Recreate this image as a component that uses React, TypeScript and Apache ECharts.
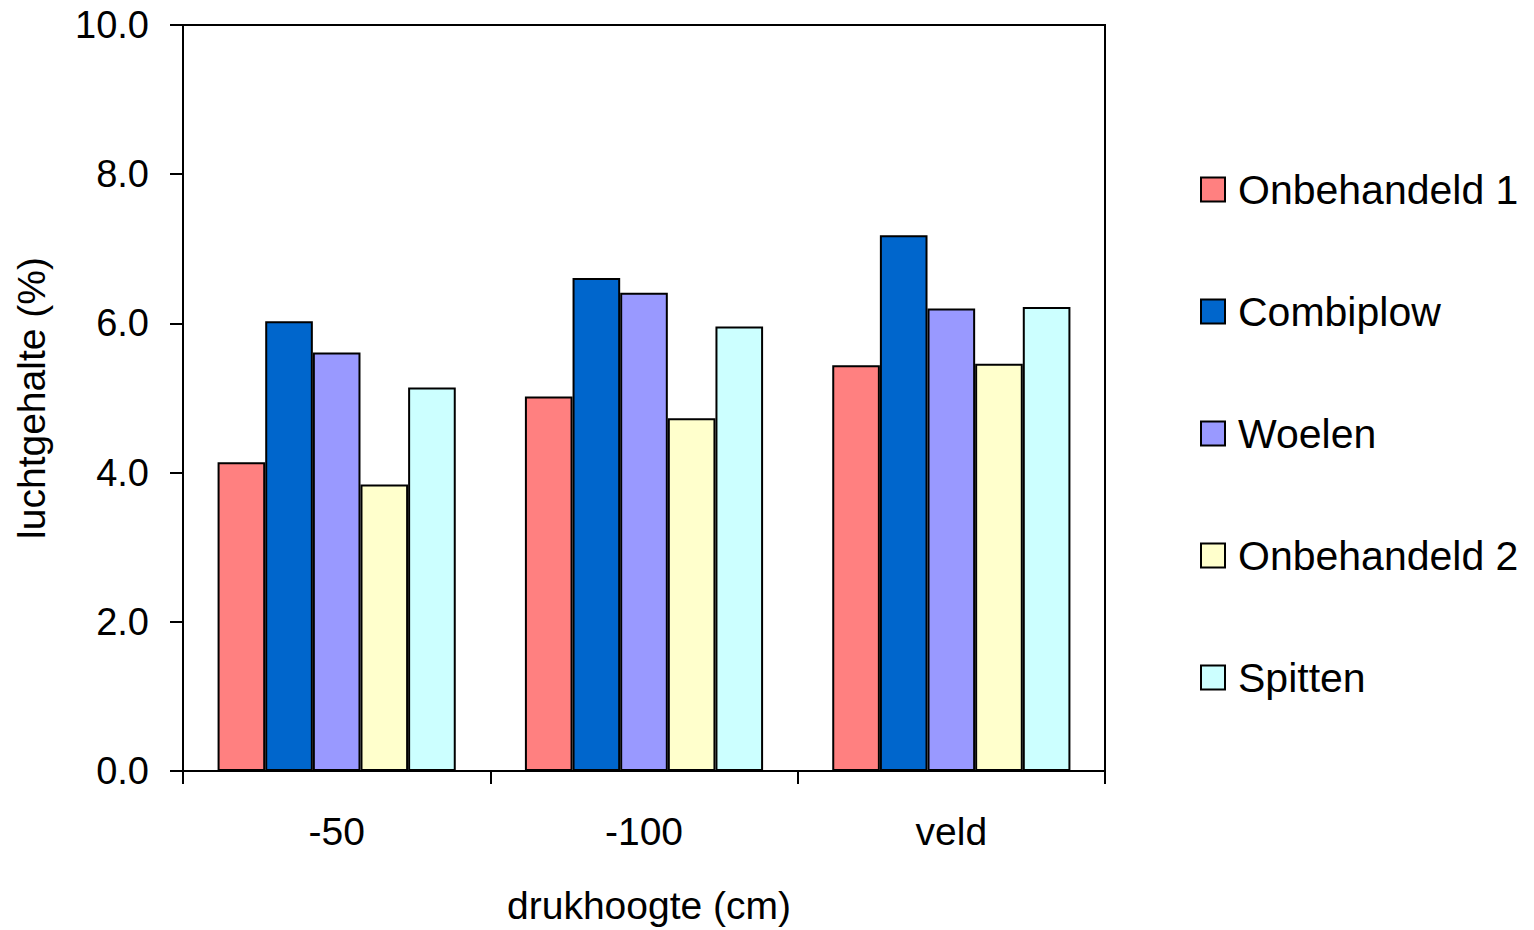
import React, { useEffect, useRef } from "react";
import * as echarts from "echarts";

const categories = ["-50", "-100", "veld"];
const seriesNames = ["Onbehandeld 1", "Combiplow", "Woelen", "Onbehandeld 2", "Spitten"];
const onbehandeld1 = [4.14, 5.02, 5.44];
const combiplow = [6.03, 6.61, 7.18];
const woelen = [5.61, 6.41, 6.2];
const onbehandeld2 = [3.84, 4.73, 5.46];
const spitten = [5.14, 5.96, 6.22];
const colors = ["#FF8080", "#0066CC", "#9999FF", "#FFFFCC", "#CCFFFF"];

export default function App() {
  const ref = useRef<HTMLDivElement>(null);
  useEffect(() => {
    document.body.style.margin = "0";
    const chart = echarts.init(ref.current!, null, { renderer: "svg" });
    const font = "Liberation Sans, Arial, sans-serif";
    const data = [onbehandeld1, combiplow, woelen, onbehandeld2, spitten];
    chart.setOption({
      animation: false,
      backgroundColor: "#ffffff",
      grid: {
        left: 183,
        top: 25,
        right: 429,
        bottom: 157,
        show: true,
        borderColor: "#000",
        borderWidth: 2,
      },
      legend: {
        orient: "vertical",
        left: 1195,
        top: 164,
        icon: "rect",
        itemWidth: 24,
        itemHeight: 24,
        itemGap: 81,
        data: seriesNames,
        textStyle: { fontFamily: font, fontSize: 41, color: "#000", padding: [0, 0, 0, 8] },
      },
      xAxis: {
        type: "category",
        data: categories,
        name: "drukhoogte (cm)",
        nameLocation: "middle",
        nameGap: 115,
        nameTextStyle: { fontFamily: font, fontSize: 39, color: "#000", padding: [0, 0, 0, 10] },
        axisLine: { lineStyle: { color: "#000", width: 2 } },
        axisTick: { show: true, length: 13, lineStyle: { color: "#000", width: 2 } },
        axisLabel: { fontFamily: font, fontSize: 39, color: "#000", margin: 41 },
      },
      yAxis: {
        type: "value",
        min: 0,
        max: 10,
        interval: 2,
        name: "luchtgehalte (%)",
        nameLocation: "middle",
        nameGap: 132,
        nameTextStyle: { fontFamily: font, fontSize: 39, color: "#000" },
        axisLine: { show: true, lineStyle: { color: "#000", width: 2 } },
        axisTick: { show: true, length: 13, lineStyle: { color: "#000", width: 2 } },
        splitLine: { show: false },
        axisLabel: {
          fontFamily: font,
          fontSize: 38,
          color: "#000",
          margin: 34,
          formatter: (v: number) => v.toFixed(1),
        },
      },
      series: seriesNames.map((name, i) => ({
        name,
        type: "bar",
        data: data[i],
        barGap: "0%",
        barCategoryGap: "22.5%",
        itemStyle: { color: colors[i], borderColor: "#000", borderWidth: 2 },
      })),
    });
    return () => chart.dispose();
  }, []);
  return <div ref={ref} style={{ width: 1534, height: 930 }} />;
}
